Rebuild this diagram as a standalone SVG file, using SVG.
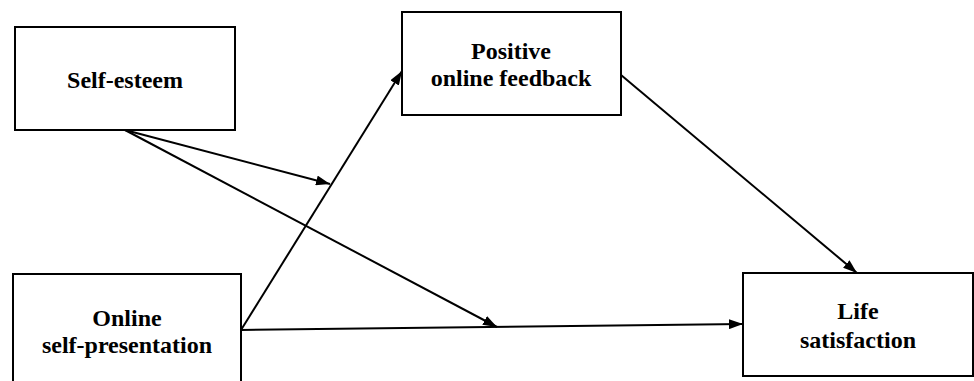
<svg xmlns="http://www.w3.org/2000/svg" width="974" height="381" viewBox="0 0 974 381">
<style>
.box{fill:#fff;stroke:#000;stroke-width:2}
.lbl{font-family:"Liberation Serif","Times New Roman","DejaVu Serif",serif;font-weight:700;font-size:24px;text-anchor:middle;fill:#000}
.con{stroke:#000;stroke-width:2;fill:none;marker-end:url(#ah)}
</style>
<defs>
<marker id="ah" viewBox="0 0 14 10" refX="14" refY="5" markerWidth="14" markerHeight="10" markerUnits="userSpaceOnUse" orient="auto">
<path d="M0,0 L14,5 L0,10 Z" fill="#000"/>
</marker>
</defs>
<rect width="974" height="381" fill="#fff"/>
<g id="self-esteem">
<rect class="box" x="15" y="27" width="220" height="103"/>
<text class="lbl" x="125" y="88">Self-esteem</text>
</g>
<g id="positive-feedback">
<rect class="box" x="402" y="12" width="219" height="103"/>
<text class="lbl" x="511" y="59">Positive</text>
<text class="lbl" x="511" y="86">online feedback</text>
</g>
<g id="online-self-presentation">
<rect class="box" x="13" y="274" width="228" height="120"/>
<text class="lbl" x="127" y="326">Online</text>
<text class="lbl" x="127" y="353">self-presentation</text>
</g>
<g id="life-satisfaction">
<rect class="box" x="743" y="273" width="230" height="103"/>
<text class="lbl" x="858" y="319">Life</text>
<text class="lbl" x="858" y="348">satisfaction</text>
</g>
<g id="connectors">
<line class="con" x1="125" y1="130" x2="330" y2="184"/>
<line class="con" x1="125" y1="130" x2="497" y2="327"/>
<line class="con" x1="241" y1="330" x2="402" y2="71"/>
<line class="con" x1="241" y1="330" x2="743" y2="324"/>
<line class="con" x1="621" y1="75" x2="857" y2="273"/>
</g>
</svg>
